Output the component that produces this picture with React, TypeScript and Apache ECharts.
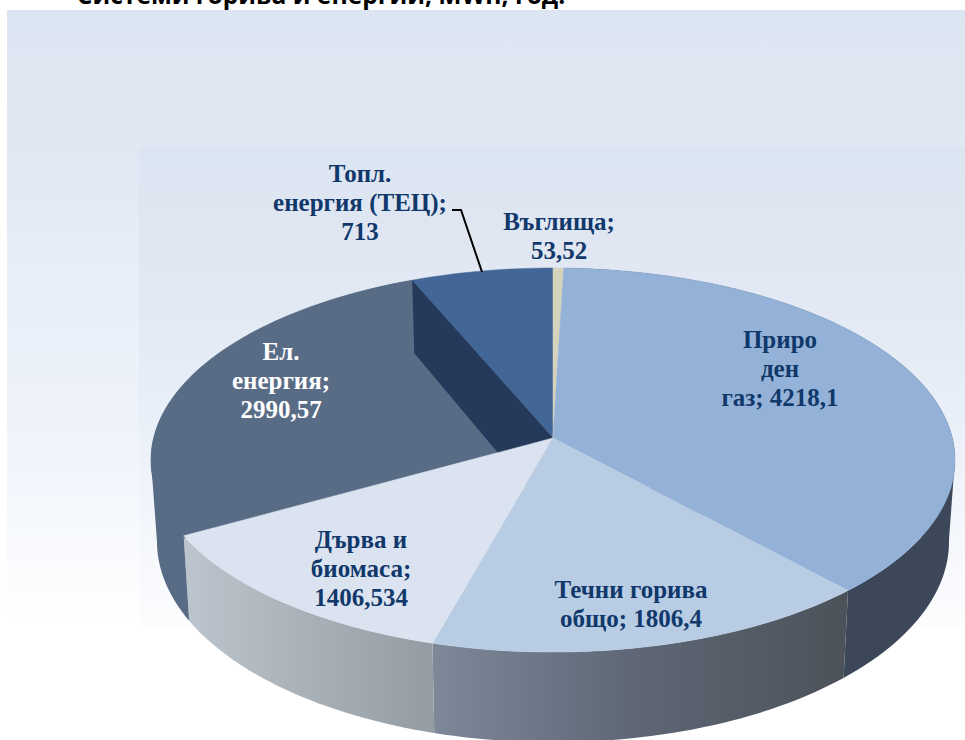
import React, { useEffect, useRef } from "react";
import * as echarts from "echarts";

const sliceNames = ["Въглища", "Природен газ", "Течни горива общо", "Дърва и биомаса", "Ел. енергия", "Топл. енергия (ТЕЦ)"];
const sliceValues = [53.52, 4218.1, 1806.4, 1406.534, 2990.57, 713];
const sliceLabels = [
  "Въглища;\n53,52",
  "Приро\nден\nгаз; 4218,1",
  "Течни горива\nобщо; 1806,4",
  "Дърва и\nбиомаса;\n1406,534",
  "Ел.\nенергия;\n2990,57",
  "Топл.\nенергия (ТЕЦ);\n713",
];
const titleText = "Системи горива и енергии, MWh, год.";

const topColors = ["#d6d3bd", "#94b2d7", "#b8cce4", "#dae3ef", "#596c86", "#426796"];
const labelColors = ["#10386b", "#10386b", "#10386b", "#10386b", "#ffffff", "#10386b"];
const labelX = [559, 780, 631, 361, 281, 360];
const labelY = [236, 368, 604, 568, 380, 202];
const topZ = [4, 4, 4, 4, 2, 2];

const wallFill = (i: number): any => {
  const g = (stops: [number, string][]) =>
    new echarts.graphic.LinearGradient(0, 0, 1, 0, stops.map(([offset, color]) => ({ offset, color })));
  if (i === 2) return g([[0, "#7d8899"], [0.5, "#5e6675"], [1, "#4b5259"]]);
  if (i === 3) return g([[0, "#bcc4cd"], [0.5, "#a9b1b8"], [1, "#939ba3"]]);
  if (i === 4) return "#586b85";
  return "#3c4859";
};

const CX = 553, CY = 438, A = 399.4, B = 189.5, K = 0.1147;
const BOTTOM_X = 0.985, BOTTOM_Y = 1.046, BOTTOM_C = 518.4;
const total = sliceValues.reduce((s, v) => s + v, 0);

const rim = (theta: number): [number, number] => {
  const u = Math.sin(theta), v = -Math.cos(theta);
  const w = 1 / (1 - K * v);
  return [CX + A * u * w, CY + B * v * w];
};
const lower = (p: [number, number]): [number, number] => [
  CX + BOTTOM_X * (p[0] - CX),
  BOTTOM_C + BOTTOM_Y * (p[1] - CY),
];

export default function App() {
  const ref = useRef<HTMLDivElement>(null);
  useEffect(() => {
    const chart = echarts.init(ref.current!, null, { renderer: "svg" });
    const renderItem = (params: any, api: any) => {
      const i = params.dataIndex;
      let before = 0;
      for (let k = 0; k < i; k++) before += sliceValues[k];
      const t0 = (before / total) * Math.PI * 2;
      const t1 = ((before + api.value(1)) / total) * Math.PI * 2;
      const n = Math.max(4, Math.ceil((t1 - t0) * 40));
      const arc: [number, number][] = [];
      for (let k = 0; k <= n; k++) arc.push(rim(t0 + ((t1 - t0) * k) / n));
      const color = topColors[i];
      const children: any[] = [];
      if (i >= 1 && i <= 4) {
        children.push({
          type: "polygon",
          z2: 1,
          shape: { points: [...arc, ...arc.slice().reverse().map(lower)] },
          style: { fill: wallFill(i) },
        });
      }
      if (i === 1 || i === 4) {
        // silhouette between the top and bottom rim at the widest point
        const pick = i === 1 ? Math.max : Math.min;
        const ext = pick(...arc.map((p) => p[0]));
        const top = arc.find((p) => p[0] === ext)!;
        const low = lower(top);
        children.push({
          type: "polygon",
          z2: 1,
          shape: { points: [top, low, [CX, CY + 60]] },
          style: { fill: wallFill(i) },
        });
      }
      children.push({
        type: "polygon",
        z2: topZ[i],
        shape: { points: [[CX, CY], ...arc] },
        style: { fill: color, stroke: color, lineWidth: 0.5 },
      });
      if (i === 5) {
        children.push({
          type: "polygon",
          z2: 3,
          shape: { points: [arc[0], lower(arc[0]), lower([CX, CY]), [CX, CY]] },
          style: { fill: "#253a5a" },
        });
      }
      children.push({
        type: "text",
        z2: 10,
        style: {
          text: sliceLabels[i],
          x: labelX[i],
          y: labelY[i],
          fill: labelColors[i],
          font: 'bold 25px "Liberation Serif"',
          lineHeight: 29,
          align: "center",
          verticalAlign: "middle",
        },
      });
      return { type: "group", children };
    };
    chart.setOption({
      animation: false,
      backgroundColor: "#ffffff",
      graphic: [
        {
          type: "rect",
          z: -5,
          shape: { x: 7, y: 10, width: 958, height: 730 },
          style: {
            fill: new echarts.graphic.LinearGradient(0, 0, 0, 1, [
              { offset: 0, color: "#dce6f2" },
              { offset: 0.17, color: "#e0e6f2" },
              { offset: 0.35, color: "#e7eef8" },
              { offset: 0.6, color: "#f0f4fb" },
              { offset: 0.84, color: "#ffffff" },
              { offset: 1, color: "#ffffff" },
            ]),
          },
        },
        {
          type: "rect",
          z: -4,
          shape: { x: 139, y: 147, width: 826, height: 481 },
          style: {
            fill: new echarts.graphic.LinearGradient(0, 0, 0, 1, [
              { offset: 0, color: "#dbe5f1" },
              { offset: 0.25, color: "#e1e7f3" },
              { offset: 0.55, color: "#e9eff8" },
              { offset: 1, color: "#fdfdff" },
            ]),
          },
        },
        {
          type: "text",
          z: 6,
          style: {
            text: titleText,
            x: 321,
            y: -6,
            fill: "#000000",
            font: 'bold 24.6px "Open Sans"',
            align: "center",
            verticalAlign: "middle",
          },
        },
        {
          type: "polyline",
          z: 6,
          shape: { points: [[452, 210], [461, 210], [482, 272]] },
          style: { stroke: "#000000", lineWidth: 2, fill: "none" },
        },
      ],
      series: [
        {
          type: "custom",
          coordinateSystem: "none",
          renderItem,
          silent: true,
          encode: { value: 1 },
          data: sliceNames.map((name, i) => ({ name, value: [i, sliceValues[i]] })),
        },
      ],
    });
    return () => chart.dispose();
  }, []);
  return <div ref={ref} style={{ position: "fixed", left: 0, top: 0, width: 965, height: 740 }} />;
}
